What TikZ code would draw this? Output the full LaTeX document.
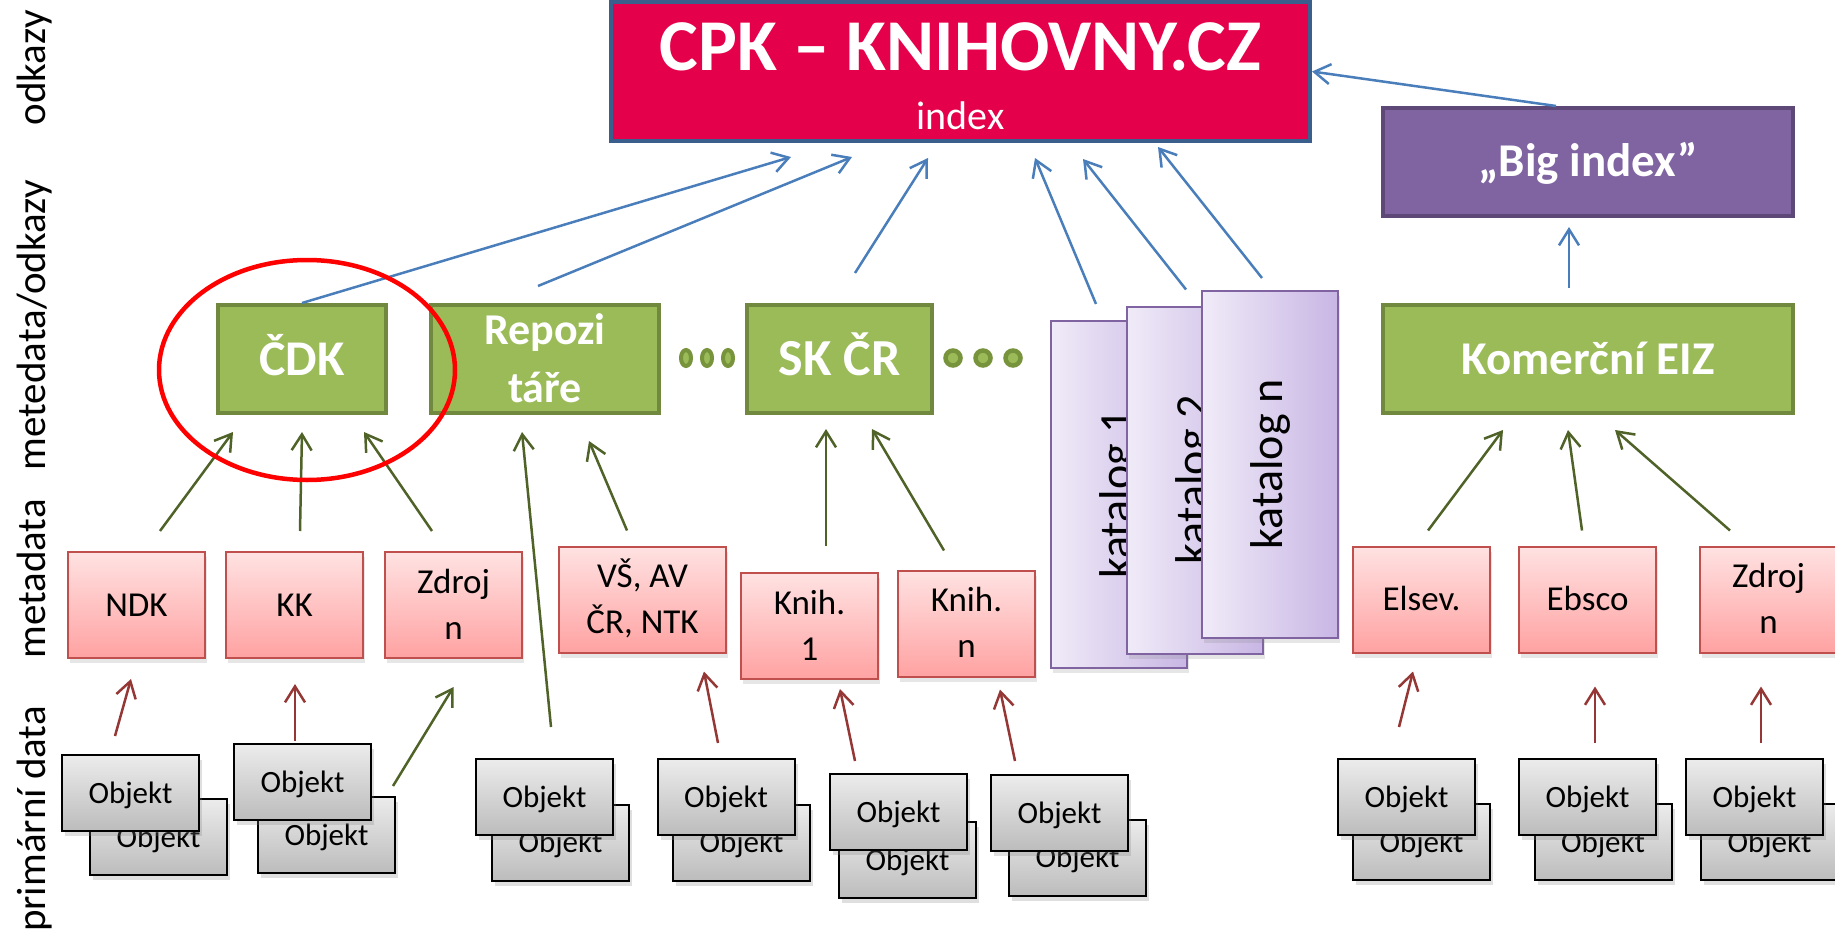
\documentclass[tikz,border=0pt]{standalone}
\usepackage{fontspec}
\setmainfont{Carlito}
\usetikzlibrary{arrows.meta,shadows}

\definecolor{cpkred}{RGB}{228,0,74}
\definecolor{cpkline}{RGB}{58,95,140}
\definecolor{bigfill}{RGB}{128,100,162}
\definecolor{bigline}{RGB}{94,72,120}
\definecolor{eizfill}{RGB}{155,187,89}
\definecolor{eizline}{RGB}{113,137,63}
\definecolor{dotline}{RGB}{119,147,60}
\definecolor{metatop}{RGB}{255,226,226}
\definecolor{metabottom}{RGB}{255,162,162}
\definecolor{metaline}{RGB}{192,80,77}
\definecolor{catleft}{RGB}{240,235,248}
\definecolor{catright}{RGB}{200,182,228}
\definecolor{catline}{RGB}{128,100,162}
\definecolor{objtop}{RGB}{236,236,236}
\definecolor{objbottom}{RGB}{188,188,188}
\definecolor{linkblue}{RGB}{74,126,187}
\definecolor{linkgreen}{RGB}{79,98,40}
\definecolor{linkred}{RGB}{149,55,53}

\begin{document}
\begin{tikzpicture}[x=1pt,y=-1pt,
    aggbox/.style={draw=eizline, line width=4pt, fill=eizfill, text=white,
      minimum width=168pt, minimum height=108pt, inner sep=0pt, align=center,
      font=\bfseries\fontsize{50}{58}\selectfont, text height=32pt, text depth=0pt},
    metabox/.style={draw=metaline, line width=2pt, top color=metatop, bottom color=metabottom,
      minimum width=137pt, minimum height=106pt, inner sep=0pt, align=center,
      font=\fontsize{35}{46}\selectfont, text height=22pt, text depth=0pt,
      drop shadow={opacity=0.2,shadow xshift=2pt,shadow yshift=-5pt}},
    twolines/.style={text height=68pt},
    objbox/.style={draw=black, line width=2pt, top color=objtop, bottom color=objbottom,
      minimum width=137pt, minimum height=76pt, inner sep=0pt,
      font=\fontsize{31}{36}\selectfont, text height=20pt, text depth=0pt,
      drop shadow={opacity=0.25,shadow xshift=3pt,shadow yshift=-5pt}},
    catbox/.style={draw=catline, line width=2pt, left color=catleft, right color=catright,
      minimum width=136pt, minimum height=347pt, inner sep=0pt,
      font=\fontsize{46}{50}\selectfont,
      drop shadow={opacity=0.2,shadow xshift=2pt,shadow yshift=-5pt}},
    sidelabel/.style={rotate=90, anchor=base, font=\fontsize{41}{48}\selectfont},
    link/.style={line width=2.5pt, -{Straight Barb[length=16pt,width=20pt]}},
    bluelink/.style={link, draw=linkblue},
    greenlink/.style={link, draw=linkgreen},
    redlink/.style={link, draw=linkred}]
  \useasboundingbox (0,0) rectangle (1835,936);

  \node[sidelabel] (lblodkazy) at (45,68) {odkazy};
  \node[sidelabel] (lblmeteodkazy) at (45,325) {metedata/odkazy};
  \node[sidelabel] (lblmetadata) at (45,579) {metadata};
  \node[sidelabel] (lblprimarni) at (45,819) {primární data};

  \node[draw=cpkline, line width=4pt, fill=cpkred, minimum width=699pt, minimum height=139pt] (cpk) at (960.5,71.5) {};
  \node[anchor=base, text=white, font=\bfseries\fontsize{73}{80}\selectfont] (cpkname) at (960.5,71) {CPK – KNIHOVNY.CZ};
  \node[anchor=base, text=white, font=\fontsize{40}{48}\selectfont] (cpkindex) at (960.5,130) {index};

  \node[draw=bigline, line width=4pt, fill=bigfill, text=white, minimum width=410pt, minimum height=108pt,
    font=\bfseries\fontsize{47}{54}\selectfont, text height=29pt, text depth=0pt] (bigindex) at (1588,162) {„Big index”};

  \node[aggbox] (cdk) at (302,359) {ČDK};
  \node[aggbox, minimum width=228pt, font=\bfseries\fontsize{44}{58}\selectfont, text height=86pt] (repoz) at (545,359) {Repozi\\táře};
  \node[aggbox, minimum width=185pt, font=\bfseries\fontsize{52}{60}\selectfont, text height=33pt] (skcr) at (839.5,359) {SK ČR};
  \node[aggbox, minimum width=410pt, font=\bfseries\fontsize{47}{56}\selectfont, text height=30pt] (komeiz) at (1588,359) {Komerční EIZ};

  \draw[dotline, line width=4pt, fill=eizfill] (686,358) ellipse [x radius=5, y radius=8];
  \draw[dotline, line width=4pt, fill=eizfill] (707,358) ellipse [x radius=5, y radius=8];
  \draw[dotline, line width=4pt, fill=eizfill] (728,358) ellipse [x radius=5, y radius=8];
  \draw[dotline, line width=4.5pt, fill=eizfill] (953,358) circle [radius=7.5];
  \draw[dotline, line width=4.5pt, fill=eizfill] (983,358) circle [radius=7.5];
  \draw[dotline, line width=4.5pt, fill=eizfill] (1013,358) circle [radius=7.5];

  \node[catbox] (kat1) at (1119,494.5) {\rotatebox{90}{katalog 1}};
  \node[catbox] (kat2) at (1195,480) {\rotatebox{90}{katalog 2}};
  \node[catbox] (katn) at (1270,464.5) {\rotatebox{90}{katalog n}};

  \node[metabox] (ndk) at (136.5,605) {NDK};
  \node[metabox] (kk) at (294.5,605) {KK};
  \node[metabox, twolines] (zdroj) at (453.5,605) {Zdroj\\n};
  \node[metabox, twolines, minimum width=167pt] (vsav) at (642.5,599.5) {VŠ, AV\\ČR, NTK};
  \node[metabox, twolines] (knih1) at (809.5,626) {Knih.\\1};
  \node[metabox, twolines] (knihn) at (966.5,623.5) {Knih.\\n};
  \node[metabox] (elsev) at (1421.5,599.5) {Elsev.};
  \node[metabox] (ebsco) at (1587.5,599.5) {Ebsco};
  \node[metabox, twolines] (zdrojeiz) at (1768.5,599.5) {Zdroj\\n};

  \node[objbox] (obj1b) at (158.5,837) {Objekt};
  \node[objbox] (obj1) at (130.5,793) {Objekt};
  \node[objbox] (obj2b) at (326.5,835) {Objekt};
  \node[objbox] (obj2) at (302.5,782) {Objekt};
  \node[objbox] (obj3b) at (560.5,842.5) {Objekt};
  \node[objbox] (obj3) at (544.5,797) {Objekt};
  \node[objbox] (obj4b) at (741.5,842.5) {Objekt};
  \node[objbox] (obj4) at (726,797) {Objekt};
  \node[objbox] (obj5b) at (907.5,860) {Objekt};
  \node[objbox] (obj5) at (898.5,812) {Objekt};
  \node[objbox] (obj6b) at (1077.5,857.5) {Objekt};
  \node[objbox] (obj6) at (1059.5,813) {Objekt};
  \node[objbox] (obj7b) at (1421.5,842) {Objekt};
  \node[objbox] (obj7) at (1406.5,797) {Objekt};
  \node[objbox] (obj8b) at (1603,842) {Objekt};
  \node[objbox] (obj8) at (1587.5,797) {Objekt};
  \node[objbox] (obj9b) at (1769.5,842) {Objekt};
  \node[objbox] (obj9) at (1754.5,797) {Objekt};

  \draw[greenlink] ([xshift=23.5pt,yshift=20pt]ndk.north) -- ([xshift=-69pt,yshift=-17pt]cdk.south);
  \draw[greenlink] ([xshift=5.5pt,yshift=20pt]kk.north) -- ([yshift=-17pt]cdk.south);
  \draw[greenlink] ([xshift=-21.5pt,yshift=20pt]zdroj.north) -- ([xshift=62pt,yshift=-17pt]cdk.south);
  \draw[greenlink] ([xshift=6.5pt,yshift=31pt]obj3.north) -- ([xshift=-23pt,yshift=-17pt]repoz.south);
  \draw[greenlink] ([xshift=-15.5pt,yshift=15pt]vsav.north) -- ([xshift=44pt,yshift=-26pt]repoz.south);
  \draw[greenlink] ([xshift=16.5pt,yshift=26pt]knih1.north) -- ([xshift=-13.5pt,yshift=-14pt]skcr.south);
  \draw[greenlink] ([xshift=-22.5pt,yshift=19pt]knihn.north) -- ([xshift=32.5pt,yshift=-14pt]skcr.south);
  \draw[greenlink] ([xshift=6.5pt,yshift=15pt]elsev.north) -- ([xshift=-85pt,yshift=-15pt]komeiz.south);
  \draw[greenlink] ([xshift=-5.5pt,yshift=15pt]ebsco.north) -- ([xshift=-20pt,yshift=-15pt]komeiz.south);
  \draw[greenlink] ([xshift=-38.5pt,yshift=15pt]zdrojeiz.north) -- ([xshift=27pt,yshift=-15pt]komeiz.south);
  \draw[greenlink] ([xshift=21pt,yshift=-4pt]obj2.east) -- ([yshift=-28pt]zdroj.south);

  \draw[redlink] ([xshift=-15.5pt,yshift=18pt]obj1.north) -- ([xshift=-5.5pt,yshift=-20pt]ndk.south);
  \draw[redlink] ([xshift=-7.5pt,yshift=2pt]obj2.north) -- ([xshift=0.5pt,yshift=-25pt]kk.south);
  \draw[redlink] ([xshift=-8pt,yshift=15pt]obj4.north) -- ([xshift=61.5pt,yshift=-18pt]vsav.south);
  \draw[redlink] ([xshift=-43.5pt,yshift=12pt]obj5.north) -- ([xshift=30.5pt,yshift=-9pt]knih1.south);
  \draw[redlink] ([xshift=-44.5pt,yshift=13pt]obj6.north) -- ([xshift=33.5pt,yshift=-12pt]knihn.south);
  \draw[redlink] ([xshift=-7.5pt,yshift=31pt]obj7.north) -- ([xshift=-8.5pt,yshift=-18pt]elsev.south);
  \draw[redlink] ([xshift=7.5pt,yshift=15pt]obj8.north) -- ([xshift=7.5pt,yshift=-33pt]ebsco.south);
  \draw[redlink] ([xshift=6.5pt,yshift=15pt]obj9.north) -- ([xshift=-7.5pt,yshift=-33pt]zdrojeiz.south);

  \draw[bluelink] (cdk.north) -- ([xshift=-169.5pt,yshift=-14pt]cpk.south);
  \draw[bluelink] ([xshift=-7pt,yshift=17pt]repoz.north) -- ([xshift=-108.5pt,yshift=-14pt]cpk.south);
  \draw[bluelink] ([xshift=15.5pt,yshift=30pt]skcr.north) -- ([xshift=-32.5pt,yshift=-15pt]cpk.south);
  \draw[bluelink] ([xshift=-23pt,yshift=16pt]kat1.north) -- ([xshift=74.5pt,yshift=-15pt]cpk.south);
  \draw[bluelink] ([xshift=-9pt,yshift=16pt]kat2.north) -- ([xshift=122.5pt,yshift=-16pt]cpk.south);
  \draw[bluelink] ([xshift=-8pt,yshift=12pt]katn.north) -- ([xshift=197.5pt,yshift=-4pt]cpk.south);
  \draw[bluelink] ([xshift=-32pt]bigindex.north) -- (cpk.east);
  \draw[bluelink] ([xshift=-19pt,yshift=15pt]komeiz.north) -- ([xshift=-19pt,yshift=-9pt]bigindex.south);

  \draw[red, line width=4.5pt] (307,370) ellipse [x radius=148, y radius=110];
\end{tikzpicture}
\end{document}
